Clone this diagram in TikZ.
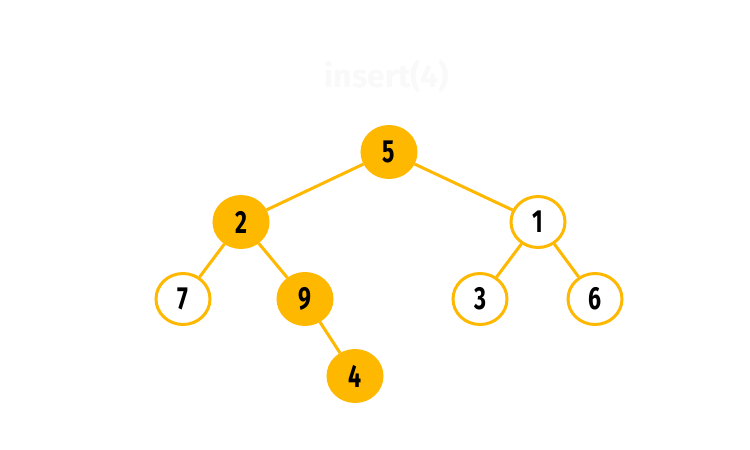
\documentclass[tikz,border=0pt]{standalone}
\usepackage{fontspec}
\setmainfont{Fira Sans}
\newfontfamily\digfont[FakeStretch=0.72]{Fira Sans}
\usetikzlibrary{shapes.geometric}
\definecolor{gold}{RGB}{255,184,0}
\definecolor{ghost}{RGB}{249,249,249}
\tikzset{
  tn/.style={ellipse, minimum width=54pt, minimum height=51pt, inner sep=0pt, line width=3pt, draw=gold, font=\digfont\bfseries\fontsize{32}{32}\selectfont},
  full/.style={tn, fill=gold},
  hollow/.style={tn, fill=white},
  edge/.style={draw=gold, line width=3pt}
}
\begin{document}
\begin{tikzpicture}[x=1pt,y=-1pt]
\useasboundingbox (0,0) rectangle (750,450);
\fill[white] (0,0) rectangle (750,450);
\node[text=ghost, font=\bfseries\fontsize{32}{32}\selectfont] (title) at (387,76) {insert(4)};
\node[full] (n5) at (389,152) {5};
\node[full] (n2) at (241,222) {2};
\node[hollow] (n1) at (538,222) {1};
\node[hollow] (n7) at (183,299) {7};
\node[full] (n9) at (305,299) {9};
\node[hollow] (n3) at (480,299) {3};
\node[hollow] (n6) at (595,299) {6};
\node[full] (n4) at (355,376) {4};
\draw[edge] (n5) -- (n2);
\draw[edge] (n5) -- (n1);
\draw[edge] (n2) -- (n7);
\draw[edge] (n2) -- (n9);
\draw[edge] (n9) -- (n4);
\draw[edge] (n1) -- (n3);
\draw[edge] (n1) -- (n6);
\end{tikzpicture}
\end{document}
